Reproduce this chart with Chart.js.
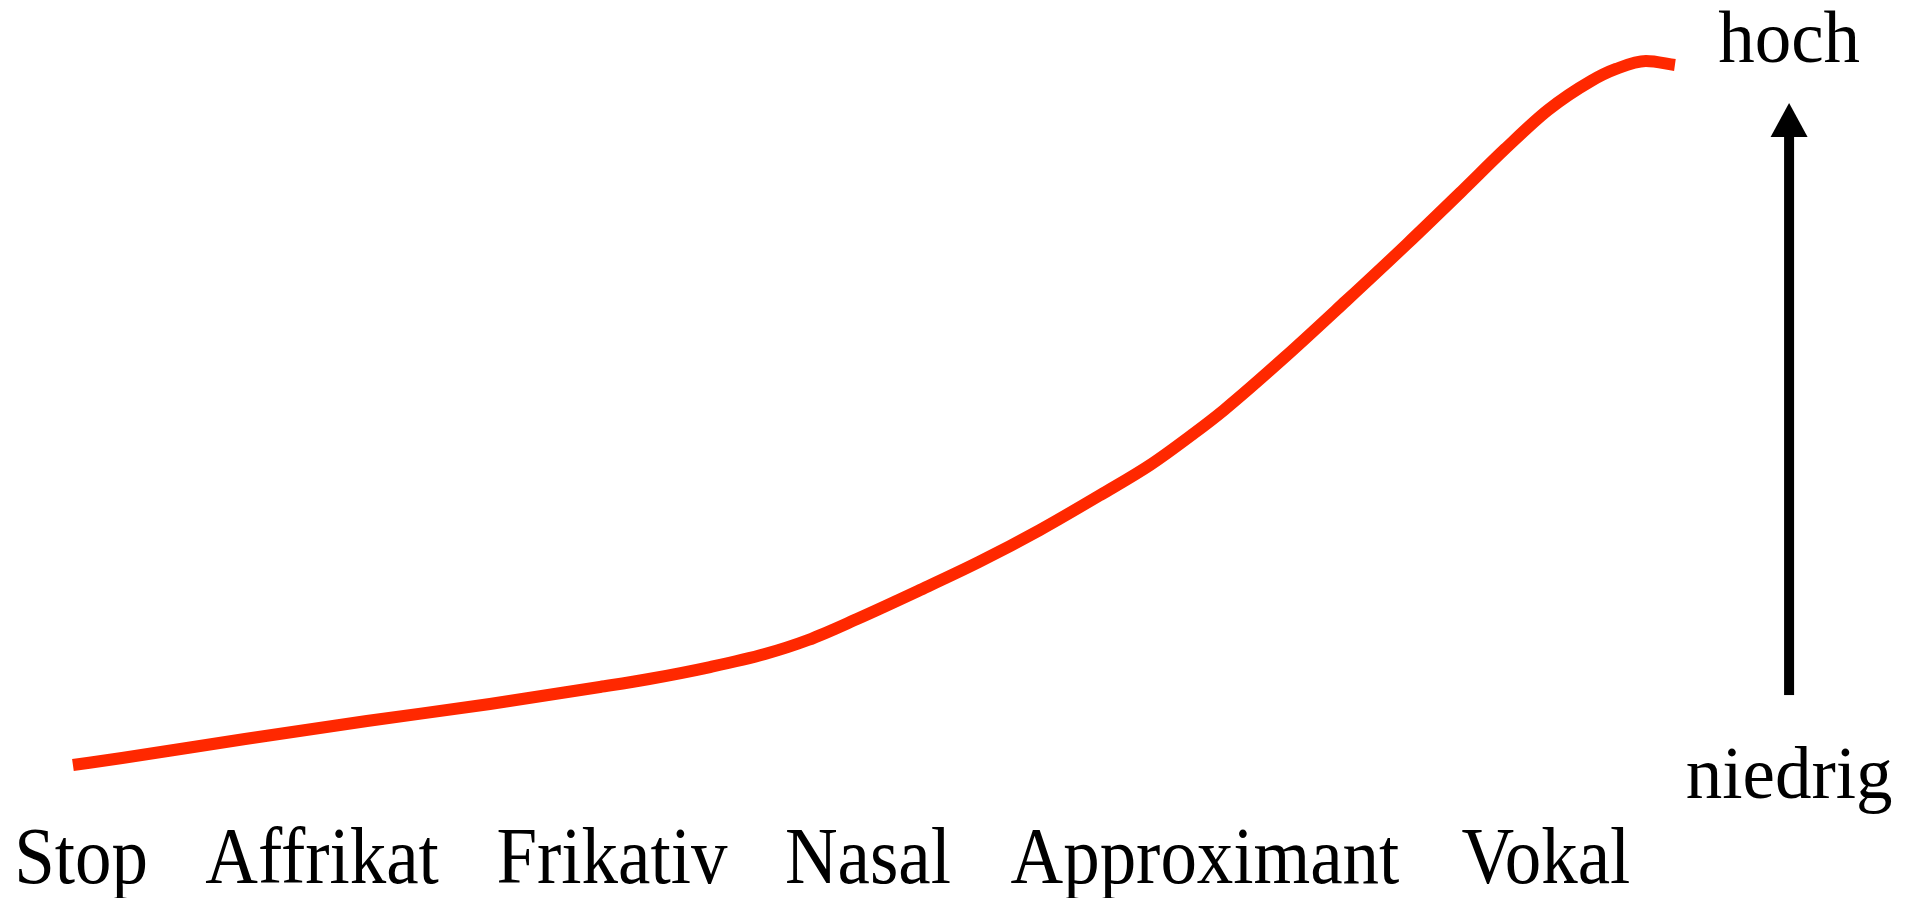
<!DOCTYPE html>
<html>
<head>
<meta charset="utf-8">
<script src="https://cdn.jsdelivr.net/npm/chart.js@4/dist/chart.umd.min.js"></script>
<style>
  html, body { margin: 0; padding: 0; background: #fff; overflow: hidden; }
  #wrap { width: 1919px; height: 898px; }
  canvas { display: block; }
</style>
</head>
<body>
<div id="wrap"><canvas id="c" width="1919" height="898"></canvas></div>
<script>
// Categories along the horizontal axis and their positions (0–100 scale)
const categories = ['Stop', 'Affrikat', 'Frikativ', 'Nasal', 'Approximant', 'Vokal'];
const categoryPos = [4.22, 16.78, 31.89, 45.23, 62.79, 80.56];

// Traced sonority curve (x: position 0–100, y: level 0–100)
const curveX = [3.80, 6.36, 12.77, 19.12, 25.53, 31.27, 33.82, 37.00, 39.86, 42.11,
                44.66, 47.84, 51.02, 54.19, 57.43, 59.93, 62.17, 63.78, 66.96, 70.14,
                73.32, 76.24, 78.43, 80.67, 82.91, 84.21, 85.77, 87.28];
const curveY = [14.81, 15.59, 17.71, 19.71, 21.60, 23.50, 24.39, 25.72, 27.17, 28.73,
                31.07, 34.19, 37.42, 40.98, 44.99, 48.22, 51.67, 54.34, 60.24, 66.48,
                72.83, 78.84, 83.41, 87.75, 90.98, 92.32, 93.21, 92.76];

// Scale arrow labels and levels
const scaleLabels = ['niedrig', 'hoch'];
const scaleLabelLevels = [11.14, 93.1];
const arrowX = 93.23;
const arrowLevels = [22.6, 84.74, 88.53]; // shaft bottom, head base, tip
const categoryBaseline = 1.7;

const overlay = {
  id: 'overlay',
  afterDraw(chart) {
    const ctx = chart.ctx;
    const xs = chart.scales.x, ys = chart.scales.y;
    ctx.save();
    ctx.fillStyle = '#000';
    // category labels (condensed serif)
    ctx.font = '81px "Liberation Serif", "Times New Roman", serif';
    ctx.textAlign = 'center';
    ctx.textBaseline = 'alphabetic';
    const by = ys.getPixelForValue(categoryBaseline);
    categories.forEach((c, i) => {
      const px = xs.getPixelForValue(categoryPos[i]);
      ctx.save();
      ctx.translate(px, by);
      ctx.scale(0.9, 1);
      ctx.fillText(c, 0, 0);
      ctx.restore();
    });
    // scale labels
    ctx.font = '73px "Liberation Serif", "Times New Roman", serif';
    const ax = xs.getPixelForValue(arrowX);
    scaleLabels.forEach((t, i) => {
      ctx.fillText(t, ax, ys.getPixelForValue(scaleLabelLevels[i]));
    });
    // arrow
    const yBottom = ys.getPixelForValue(arrowLevels[0]);
    const yBase = ys.getPixelForValue(arrowLevels[1]);
    const yTip = ys.getPixelForValue(arrowLevels[2]);
    ctx.fillRect(ax - 5, yBase - 1, 10, yBottom - yBase + 1);
    ctx.beginPath();
    ctx.moveTo(ax, yTip);
    ctx.lineTo(ax + 18.5, yBase);
    ctx.lineTo(ax - 18.5, yBase);
    ctx.closePath();
    ctx.fill();
    ctx.restore();
  }
};

new Chart(document.getElementById('c'), {
  type: 'line',
  data: {
    datasets: [{
      data: curveX.map((x, i) => ({ x: x, y: curveY[i] })),
      borderColor: 'rgb(255, 40, 0)',
      borderWidth: 12,
      borderCapStyle: 'butt',
      borderJoinStyle: 'round',
      pointRadius: 0,
      cubicInterpolationMode: 'monotone',
      fill: false
    }]
  },
  options: {
    responsive: false,
    animation: false,
    devicePixelRatio: 1,
    layout: { padding: 0 },
    plugins: { legend: { display: false }, tooltip: { enabled: false } },
    scales: {
      x: { type: 'linear', min: 0, max: 100, display: false },
      y: { type: 'linear', min: 0, max: 100, display: false }
    }
  },
  plugins: [overlay]
});
</script>
</body>
</html>
